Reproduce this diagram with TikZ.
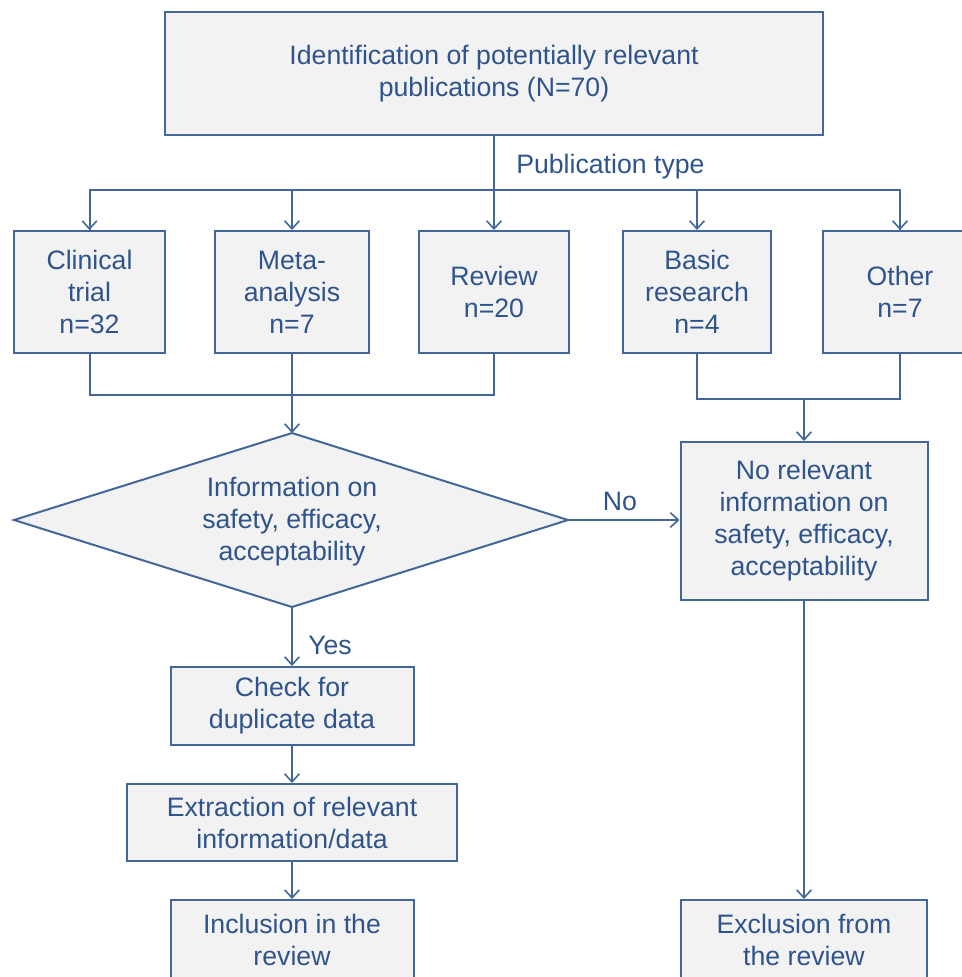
\documentclass[tikz,border=0pt]{standalone}
\usepackage{fontspec}
\setmainfont{Liberation Sans}
\usetikzlibrary{arrows.meta}
\definecolor{lnblue}{RGB}{66,103,152}
\definecolor{txblue}{RGB}{47,84,140}
\definecolor{boxfill}{RGB}{242,242,242}
\tikzset{
  box/.style={draw=lnblue, fill=boxfill, line width=1.5pt, align=center, inner sep=0pt,
    text=txblue, font=\fontsize{20}{24}\selectfont},
  conn/.style={draw=lnblue, line width=1.5pt},
  arr/.style={conn, -{Straight Barb[length=6pt,width=11pt,line width=1.2pt]}},
  lbl/.style={text=txblue, font=\fontsize{20}{24}\selectfont, inner sep=0pt, align=center}
}
\begin{document}
\begin{tikzpicture}[x=0.75pt,y=-0.75pt]
\useasboundingbox (0,0) rectangle (962,977);
\clip (0,0) rectangle (962,977);
% boxes
\node[box, minimum width=493.5pt, minimum height=92.25pt] (top) at (494,74) {Identification of potentially relevant\\publications (N=70)};
\node[box, minimum width=113.25pt, minimum height=91.5pt] (clin) at (89.5,292) {Clinical\\trial\\n=32};
\node[box, minimum width=115.5pt, minimum height=91.5pt] (meta) at (292,292) {Meta-\\analysis\\n=7};
\node[box, minimum width=112.5pt, minimum height=91.5pt] (rev) at (494,292) {Review\\n=20};
\node[box, minimum width=111pt, minimum height=91.5pt] (basic) at (697,292) {Basic\\research\\n=4};
\node[box, minimum width=115.5pt, minimum height=91.5pt] (other) at (900,292) {Other\\n=7};
% diamond
\coordinate (dN) at (292,433);
\coordinate (dE) at (568,520);
\coordinate (dS) at (292,607);
\coordinate (dW) at (14,520);
\draw[conn, fill=boxfill] (dN) -- (dE) -- (dS) -- (dW) -- cycle;
\node[lbl] (dia) at (292,522) {Information on\\safety, efficacy,\\acceptability};
\node[box, minimum width=185.25pt, minimum height=118.5pt] (nobox) at (804,521) {No relevant\\information on\\safety, efficacy,\\acceptability};
\node[box, minimum width=182.25pt, minimum height=58.5pt] (check) at (292,706) {Check for\\duplicate data};
\node[box, minimum width=247.5pt, minimum height=57.75pt] (extr) at (292,822.5) {Extraction of relevant\\information/data};
\node[box, minimum width=182.25pt, minimum height=59.25pt] (incl) at (292,939.5) {Inclusion in the\\review};
\node[box, minimum width=184.5pt, minimum height=59.25pt] (excl) at (804,939.5) {Exclusion from\\the review};
% labels
\node[lbl, anchor=west] (ptype) at (516,167) {Publication type};
\node[lbl] (nolbl) at (620,501) {No};
\node[lbl] (yeslbl) at (330,645) {Yes};
% connectors top
\coordinate (bus) at (494,190);
\draw[arr] (top.south) -- (rev.north);
\draw[conn] (bus) -| (clin.north);
\draw[conn] (bus) -| (other.north);
\draw[arr] (clin.north |- bus) -- (clin.north);
\draw[arr] (meta.north |- bus) -- (meta.north);
\draw[arr] (basic.north |- bus) -- (basic.north);
\draw[arr] (other.north |- bus) -- (other.north);
% merge left
\coordinate (j1) at (292,395);
\draw[conn] (clin.south) |- (j1) -| (rev.south);
\draw[conn] (meta.south) -- (j1);
\draw[arr] (j1) -- (dN);
% merge right
\coordinate (j2) at (804,399);
\draw[conn] (basic.south) |- (j2) -| (other.south);
\draw[arr] (j2) -- (nobox.north);
% decisions
\draw[arr] (dE) -- (nobox.west |- dE);
\draw[arr] (dS) -- (check.north);
\draw[arr] (check.south) -- (extr.north);
\draw[arr] (extr.south) -- (incl.north);
\draw[arr] (nobox.south) -- (excl.north);
\end{tikzpicture}
\end{document}
